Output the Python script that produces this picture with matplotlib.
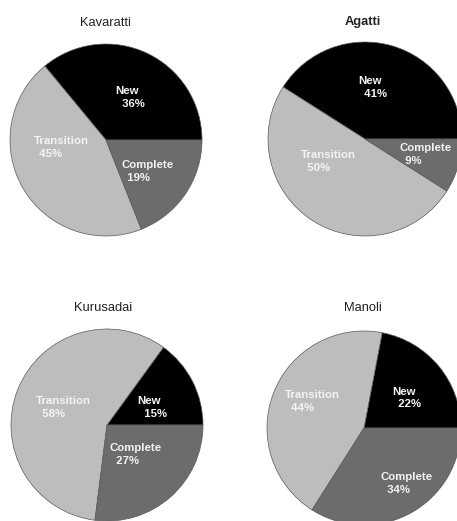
import matplotlib.pyplot as plt

plt.rcParams['font.family'] = ['Liberation Sans', 'DejaVu Sans']

sites = ["Kavaratti", "Agatti", "Kurusadai", "Manoli"]
categories = ["New", "Transition", "Complete"]
new_pct = [36, 41, 15, 22]
transition_pct = [45, 50, 58, 44]
complete_pct = [19, 9, 27, 34]

colors = ["#000000", "#bdbdbd", "#6c6c6c"]

W, H = 457, 521
# pie centre (px) and radius (px) for each site
centres = [(106, 140, 96), (365, 139, 97), (107, 425, 96), (364, 428, 97)]
title_pos = [(105, 23), (363, 22), (103, 308), (363, 308)]
# label anchor inside each pie, in units of the radius
label_xy = [
    [(0.25, 0.44), (-0.47, -0.08), (0.43, -0.33)],
    [(0.08, 0.53), (-0.38, -0.23), (0.62, -0.16)],
    [(0.47, 0.18), (-0.45, 0.18), (0.30, -0.31)],
    [(0.44, 0.31), (-0.53, 0.27), (0.44, -0.57)],
]

fig = plt.figure(figsize=(W / 100, H / 100), dpi=100)

for i, site in enumerate(sites):
    cx, cy, r = centres[i]
    ax = fig.add_axes([(cx - r) / W, (H - cy - r) / H, 2 * r / W, 2 * r / H])
    vals = [new_pct[i], transition_pct[i], complete_pct[i]]
    ax.pie(vals, colors=colors, startangle=0, counterclock=True,
           wedgeprops=dict(edgecolor="#5a5a5a", linewidth=0.5))
    ax.set_xlim(-1, 1)
    ax.set_ylim(-1, 1)
    ax.set_aspect("auto")
    ax.axis("off")
    for (lx, ly), cat, v in zip(label_xy[i], categories, vals):
        ax.text(lx, ly, f"{cat}\n  {v}%", color="#f4f4f4", fontsize=8.2,
                fontweight="bold", ha="center", va="center",
                multialignment="left", linespacing=1.35)

    tx, ty = title_pos[i]
    fig.text(tx / W, 1 - ty / H, site, fontsize=9.3, ha="center", va="center",
             color="#222222",
             fontweight="bold" if site == "Agatti" else "normal")

fig.savefig("out.png", dpi=100)
